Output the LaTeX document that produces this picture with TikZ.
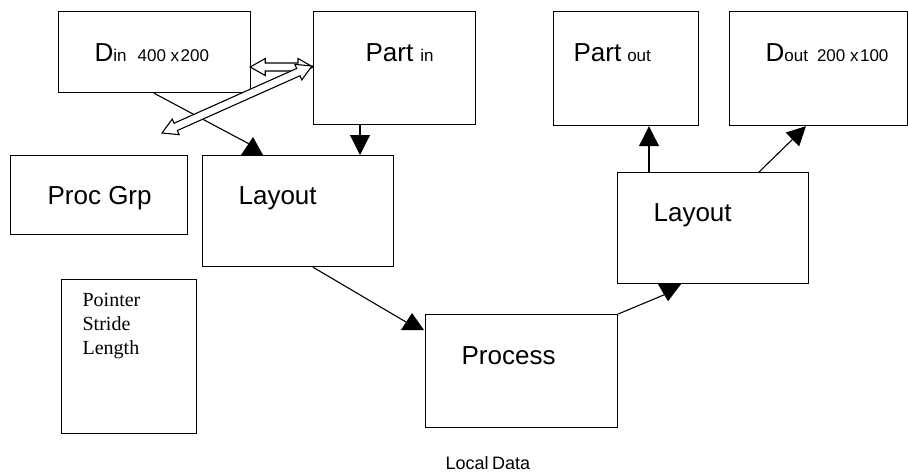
\documentclass[tikz,border=0pt]{standalone}
\usepackage{fontspec}
\setmainfont{Liberation Sans}
\newfontfamily\serifface{Liberation Serif}
\usetikzlibrary{arrows.meta,calc}

\newcommand\bigtxt{\fontsize{26}{30}\selectfont}
\newcommand\smalltxt{\fontsize{17}{20}\selectfont}

% hollow double-headed block arrow between two named points
\newcommand\hollowpair[2]{%
  \draw[hollow]
    (#1)
    -- ($(#1)!15pt!(#2)!8.5pt!90:(#2)$)
    -- ($(#1)!15pt!(#2)!4pt!90:(#2)$)
    -- ($(#2)!15pt!(#1)!4pt!-90:(#1)$)
    -- ($(#2)!15pt!(#1)!8.5pt!-90:(#1)$)
    -- (#2)
    -- ($(#2)!15pt!(#1)!8.5pt!90:(#1)$)
    -- ($(#2)!15pt!(#1)!4pt!90:(#1)$)
    -- ($(#1)!15pt!(#2)!4pt!-90:(#2)$)
    -- ($(#1)!15pt!(#2)!8.5pt!-90:(#2)$)
    -- cycle;}

\begin{document}
\begin{tikzpicture}[x=1pt,y=-1pt,
  line width=1.2pt,
  box/.style={draw,line width=1.2pt,anchor=north west,inner sep=0pt,
    minimum width=#1},
  boxh/.style={minimum height=#1},
  lbl/.style={anchor=base west,inner sep=0pt},
  link/.style={line width=1.1pt},
  tri/.style={-{Triangle[width=20pt,length=20pt]}},
  hollow/.style={draw,fill=white,line width=1.1pt,line join=miter}]

\useasboundingbox (0,0) rectangle (908,472);

% boxes
\node[box=192pt,boxh=81pt]  (din)     at (58,11)  {};
\node[box=162pt,boxh=113pt] (partin)  at (313,11) {};
\node[box=145pt,boxh=114pt] (partout) at (553,11) {};
\node[box=178pt,boxh=114pt] (dout)    at (729,11) {};
\node[box=177pt,boxh=79pt]  (procgrp) at (10,155) {};
\node[box=191pt,boxh=111pt] (layA)    at (202,155) {};
\node[box=135pt,boxh=154pt] (meta)    at (61,279) {};
\node[box=192pt,boxh=113pt] (proc)    at (425,314) {};
\node[box=191pt,boxh=111pt] (layB)    at (617,172) {};

% labels
\node[lbl] (tdin) at ($(din.north west)+(36,50)$)
  {\bigtxt D\smalltxt in\hspace{11pt}400 x\hspace{1.5pt}200};
\node[lbl] (tpartin) at ($(partin.north west)+(52,50)$)
  {\bigtxt Part\hspace{7pt}\smalltxt in};
\node[lbl] (tpartout) at ($(partout.north west)+(20,50)$)
  {\bigtxt Part\hspace{6pt}\smalltxt out};
\node[lbl] (tdout) at ($(dout.north west)+(36,50)$)
  {\bigtxt D\smalltxt out\hspace{9pt}200 x\hspace{1.5pt}100};
\node[lbl] (tprocgrp) at ($(procgrp.north west)+(37,49)$) {\bigtxt Proc Grp};
\node[lbl] (tlayA) at ($(layA.north west)+(36,49)$) {\bigtxt Layout};
\node[lbl] (tlayB) at ($(layB.north west)+(36,49)$) {\bigtxt Layout};
\node[lbl] (tproc) at ($(proc.north west)+(36,50)$) {\bigtxt Process};
\node[anchor=north west,inner sep=0pt,align=left,
      font={\serifface\fontsize{20}{24}\selectfont}] (tmeta)
  at ($(meta.north west)+(21,14)$)
  {Pointer\\Stride\\Length};
\node[lbl] (tlocal) at (445,469) {\fontsize{18}{20}\selectfont Local\hspace{-1.5pt} Data};

% connector end points
\coordinate (dinS)    at ($(din.south west)+(96,0)$);
\coordinate (layAtip) at ($(layA.north west)+(51,-9)$);
\coordinate (layAS)   at ($(layA.south west)+(111,0)$);
\coordinate (procNW)  at (proc.north east);
\coordinate (layBbot) at ($(layB.south west)+(51,9)$);
\coordinate (proctip) at ($(proc.north west)+(-19,8)$);

% Din -> Layout
\draw[link] (dinS) -- (layAtip);
\fill ($(layA.north west)+(39,0)$) -- ($(layA.north west)+(61,0)$)
      -- ($(layA.north west)+(51,-18)$) -- cycle;
% Part in -> Layout
\draw[link,tri] ($(partin.south west)+(47,0)$) -- ($(layA.north west)+(158,0)$);
% Layout -> Process
\draw[link] (layAS) -- (proctip);
\fill ($(proc.north west)+(-24,16)$) -- ($(proc.north west)+(-1,16)$)
      -- ($(proc.north west)+(-13,-1)$) -- cycle;
% Process -> Layout
\draw[link] (procNW) -- (layBbot);
\fill ($(layB.south west)+(41,0)$) -- ($(layB.south west)+(64,0)$)
      -- ($(layB.south west)+(51,17)$) -- cycle;
% Layout -> Part out
\draw[link,tri] ($(layB.north west)+(32,0)$) -- ($(partout.south west)+(96,0)$);
% Layout -> Dout
\draw[link,-{Triangle[width=19pt,length=19pt]}]
  ($(layB.north west)+(142,0)$) -- ($(dout.south west)+(77,0)$);

% hollow two-way arrows between Din, Part in and Proc Grp
\coordinate (hA) at ($(din.north east)+(-1,56)$);
\coordinate (hB) at ($(partin.north west)+(0,56)$);
\coordinate (dA) at (162,133);
\coordinate (dB) at ($(partin.north west)+(-1,55)$);
\hollowpair{hA}{hB}
\hollowpair{dA}{dB}

\end{tikzpicture}
\end{document}
